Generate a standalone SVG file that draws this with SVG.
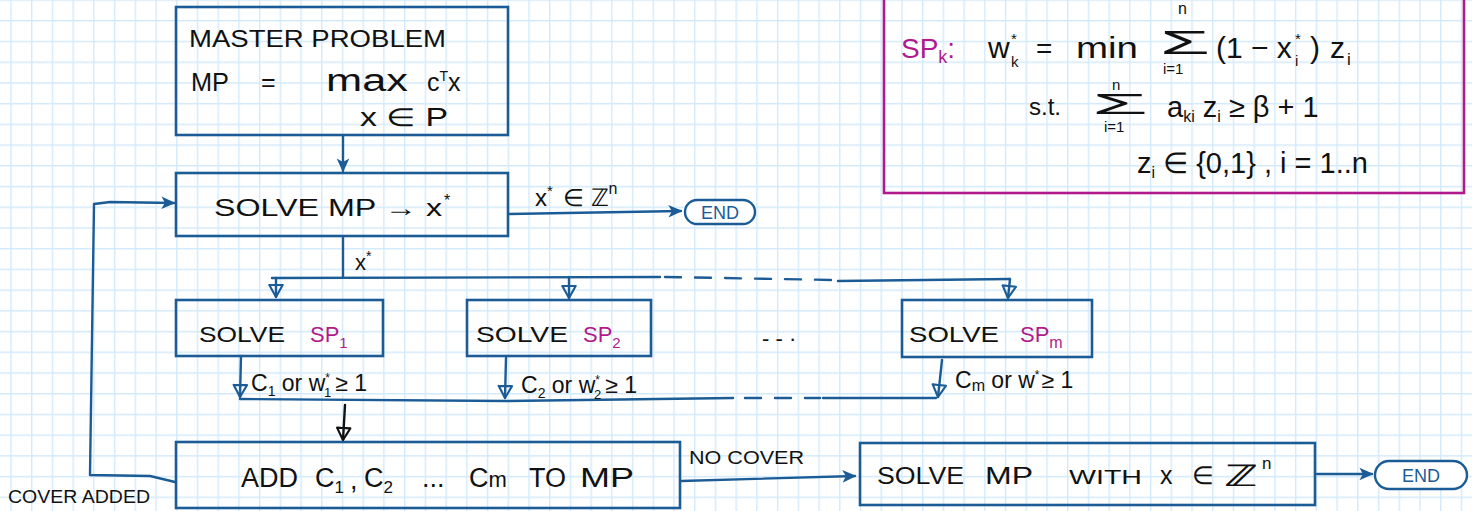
<svg xmlns="http://www.w3.org/2000/svg" width="1472" height="511" viewBox="0 0 1472 511">
<defs>
<style>
.box{fill:none;stroke:#1b5c96;stroke-width:2.6}
.pbox{fill:none;stroke:#b01a8c;stroke-width:2.6}
.pill{fill:#fff;stroke:#1b5c96;stroke-width:2.4}
.ln{fill:none;stroke:#1b5c96;stroke-width:2.4;stroke-linecap:round;stroke-linejoin:round}
.lnk{fill:none;stroke:#111;stroke-width:2.4;stroke-linecap:round}
.dash{stroke-dasharray:16 14}
.t{font-family:"Liberation Sans",Arial,sans-serif;fill:#111}
.m{fill:#b01a8c}
.e{font-family:"Liberation Sans",Arial,sans-serif;fill:#1b5c96;font-size:18px}
</style>
<pattern id="grid" x="10.3" y="-0.7" width="20.72" height="20.72" patternUnits="userSpaceOnUse">
<path d="M0.7,0 V20.72 M0,0.7 H20.72" stroke="#d3eafb" stroke-width="1.4" fill="none"/>
</pattern>
<marker id="af" viewBox="0 0 10 10" refX="9" refY="5" markerWidth="14" markerHeight="14" markerUnits="userSpaceOnUse" orient="auto">
<path d="M0,0.5 L10,5 L0,9.5 L2.5,5 z" fill="#1b5c96"/>
</marker>
<marker id="ao" viewBox="0 0 12 12" refX="10" refY="6" markerWidth="16" markerHeight="16" markerUnits="userSpaceOnUse" orient="auto">
<path d="M1,1 L10,6 L1,11 z" fill="none" stroke="#1b5c96" stroke-width="1.6" stroke-linejoin="round"/>
</marker>
<marker id="ak" viewBox="0 0 12 12" refX="10" refY="6" markerWidth="16" markerHeight="16" markerUnits="userSpaceOnUse" orient="auto">
<path d="M1,1 L10,6 L1,11 z" fill="none" stroke="#111" stroke-width="1.6" stroke-linejoin="round"/>
</marker>
</defs>
<rect width="1472" height="511" fill="#fff"/>
<rect width="1472" height="511" fill="url(#grid)"/>

<g id="connectors">
<path class="ln" d="M343,136 L343,171" marker-end="url(#af)"/>
<path class="ln" d="M509,214 L681,211" marker-end="url(#af)"/>
<path class="ln" d="M175,482 L150,476 L90,475 L94,204 L110,202 L174,203" marker-end="url(#af)"/>
<path class="ln" d="M343,237 L343,277"/>
<path class="ln" d="M272,278 L660,277"/>
<path class="ln dash" d="M665,277 L835,280"/>
<path class="ln" d="M838,281 L1010,279"/>
<path class="ln" d="M276,278 L276,297" marker-end="url(#ao)"/>
<path class="ln" d="M569,277 L569,298" marker-end="url(#ao)"/>
<path class="ln" d="M1010,279 L1008,298" marker-end="url(#ao)"/>
<path class="ln" d="M241,356 L240,397" marker-end="url(#ao)"/>
<path class="ln" d="M506,358 L505,398" marker-end="url(#ao)"/>
<path class="ln" d="M942,360 L938,397" marker-end="url(#ao)"/>
<path class="ln" d="M240,399 L505,401 L733,398"/>
<path class="ln dash" d="M745,398 L820,398"/>
<path class="ln" d="M823,398 L936,398"/>
<path class="lnk" d="M345,405 L343,440" marker-end="url(#ak)"/>
<path class="ln" d="M681,481 L855,476" marker-end="url(#af)"/>
<path class="ln" d="M1317,474 L1372,474" marker-end="url(#af)"/>
</g>

<g id="node-mp">
<rect class="box" x="176" y="7" width="332" height="128"/>
<text class="t" x="189" y="47" font-size="23" textLength="257" lengthAdjust="spacingAndGlyphs">MASTER  PROBLEM</text>
<text class="t" x="191" y="91" font-size="25" textLength="38" lengthAdjust="spacingAndGlyphs">MP</text>
<text class="t" x="261" y="91" font-size="25">=</text>
<text class="t" x="326" y="91" font-size="31" textLength="82" lengthAdjust="spacingAndGlyphs">max</text>
<text class="t" x="427" y="91" font-size="25">c<tspan dy="-10" font-size="14">T</tspan><tspan dy="10">x</tspan></text>
<text class="t" x="360" y="126" font-size="25" textLength="88" lengthAdjust="spacingAndGlyphs">x ∈ P</text>
</g>

<g id="node-solve-mp">
<rect class="box" x="176" y="173" width="332" height="63"/>
<text class="t" x="214" y="216" font-size="24" textLength="228" lengthAdjust="spacingAndGlyphs">SOLVE MP → x</text>
<text class="t" x="444" y="206" font-size="16">*</text>
</g>

<g id="label-integer">
<text class="t" x="535" y="206" font-size="24">x<tspan dy="-10" font-size="15">*</tspan><tspan dy="10" dx="10">∈ ℤ</tspan><tspan dy="-12" font-size="16">n</tspan></text>
</g>

<g id="node-end1">
<rect class="pill" x="685" y="200" width="70" height="24" rx="12"/>
<text class="e" x="720" y="219" text-anchor="middle">END</text>
</g>

<g id="label-xstar">
<text class="t" x="355" y="270" font-size="22">x<tspan dy="-9" font-size="14">*</tspan></text>
</g>

<g id="node-sp1">
<rect class="box" x="176" y="300" width="207" height="56"/>
<text class="t" x="199" y="342" font-size="22" textLength="86" lengthAdjust="spacingAndGlyphs">SOLVE</text>
<text class="t m" x="310" y="342" font-size="22">SP<tspan dy="6" font-size="15">1</tspan></text>
</g>

<g id="node-sp2">
<rect class="box" x="467" y="300" width="184" height="56"/>
<text class="t" x="476" y="342" font-size="22" textLength="92" lengthAdjust="spacingAndGlyphs">SOLVE</text>
<text class="t m" x="583" y="342" font-size="22">SP<tspan dy="6" font-size="15">2</tspan></text>
</g>

<g id="dots">
<text class="t" x="762" y="346" font-size="22">- - ·</text>
</g>

<g id="node-spm">
<rect class="box" x="902" y="300" width="190" height="57"/>
<text class="t" x="909" y="342" font-size="22" textLength="90" lengthAdjust="spacingAndGlyphs">SOLVE</text>
<text class="t m" x="1020" y="342" font-size="22">SP<tspan dy="6" font-size="16">m</tspan></text>
</g>

<g id="label-c1">
<text class="t" x="251" y="391" font-size="23">C<tspan dy="5" font-size="14">1</tspan><tspan dy="-5"> or w</tspan><tspan dy="-9" font-size="12">*</tspan><tspan dy="15" dx="-6" font-size="13">1</tspan><tspan dy="-6" dx="4">≥ 1</tspan></text>
</g>
<g id="label-c2">
<text class="t" x="521" y="393" font-size="23">C<tspan dy="5" font-size="14">2</tspan><tspan dy="-5"> or w</tspan><tspan dy="-9" font-size="12">*</tspan><tspan dy="15" dx="-6" font-size="13">2</tspan><tspan dy="-6" dx="4">≥ 1</tspan></text>
</g>
<g id="label-cm">
<text class="t" x="955" y="388" font-size="23">C<tspan dy="3" font-size="16">m</tspan><tspan dy="-3"> or w</tspan><tspan dy="-9" font-size="12">*</tspan><tspan dy="9" dx="2">≥ 1</tspan></text>
</g>

<g id="node-add">
<rect class="box" x="176" y="442" width="504" height="66"/>
<text class="t" x="241" y="487" font-size="27">ADD</text>
<text class="t" x="315" y="487" font-size="27">C<tspan dy="6" font-size="17">1</tspan></text>
<text class="t" x="350" y="489" font-size="27">,</text>
<text class="t" x="364" y="487" font-size="27">C<tspan dy="6" font-size="17">2</tspan></text>
<text class="t" x="422" y="487" font-size="27">...</text>
<text class="t" x="469" y="487" font-size="27">C<tspan font-size="22">m</tspan></text>
<text class="t" x="529" y="487" font-size="27">TO</text>
<text class="t" x="580" y="487" font-size="27" textLength="54" lengthAdjust="spacingAndGlyphs">MP</text>
</g>

<g id="label-cover-added">
<text class="t" x="8" y="503" font-size="18" textLength="142" lengthAdjust="spacingAndGlyphs">COVER ADDED</text>
</g>

<g id="label-no-cover">
<text class="t" x="689" y="464" font-size="19" textLength="115" lengthAdjust="spacingAndGlyphs">NO COVER</text>
</g>

<g id="node-solve-int">
<rect class="box" x="860" y="443" width="455" height="62"/>
<text class="t" x="877" y="484" font-size="23" textLength="87" lengthAdjust="spacingAndGlyphs">SOLVE</text>
<text class="t" x="985" y="484" font-size="23" textLength="48" lengthAdjust="spacingAndGlyphs">MP</text>
<text class="t" x="1069" y="484" font-size="20" textLength="73" lengthAdjust="spacingAndGlyphs">WITH</text>
<text class="t" x="1160" y="484" font-size="25">x</text>
<text class="t" x="1192" y="484" font-size="25">∈</text>
<text class="t" x="1224" y="486" font-size="30" textLength="34" lengthAdjust="spacingAndGlyphs">ℤ</text>
<text class="t" x="1262" y="469" font-size="17">n</text>
</g>

<g id="node-end2">
<rect class="pill" x="1375" y="461" width="92" height="28" rx="14"/>
<text class="e" x="1421" y="482" text-anchor="middle" font-size="19">END</text>
</g>

<g id="node-spk">
<rect class="pbox" x="884" y="-10" width="580" height="203"/>
<text class="t m" x="901" y="58" font-size="28">SP<tspan dy="5" font-size="18">k</tspan><tspan dy="-5">:</tspan></text>
<text class="t" x="988" y="58" font-size="30">w</text>
<text class="t" x="1011" y="44" font-size="15">*</text>
<text class="t" x="1011" y="67" font-size="15">k</text>
<text class="t" x="1036" y="58" font-size="28">=</text>
<text class="t" x="1076" y="58" font-size="30" textLength="62" lengthAdjust="spacingAndGlyphs">min</text>
<text class="t" x="1160" y="54" font-size="34" textLength="50" lengthAdjust="spacingAndGlyphs">Σ</text>
<text class="t" x="1178" y="14" font-size="16">n</text>
<text class="t" x="1163" y="74" font-size="15">i=1</text>
<text class="t" x="1216" y="58" font-size="30">(1 − x</text>
<text class="t" x="1295" y="44" font-size="15">*</text>
<text class="t" x="1295" y="66" font-size="15">i</text>
<text class="t" x="1310" y="58" font-size="30">)</text>
<text class="t" x="1330" y="58" font-size="30">z</text>
<text class="t" x="1347" y="65" font-size="17">i</text>
<text class="t" x="1029" y="115" font-size="24">s.t.</text>
<text class="t" x="1092" y="114" font-size="30" textLength="56" lengthAdjust="spacingAndGlyphs">Σ</text>
<text class="t" x="1112" y="90" font-size="15">n</text>
<text class="t" x="1104" y="132" font-size="15">i=1</text>
<text class="t" x="1167" y="117" font-size="29">a<tspan dy="5" font-size="16">ki</tspan><tspan dy="-5"> z</tspan><tspan dy="5" font-size="16">i</tspan><tspan dy="-5">  ≥  β + 1</tspan></text>
<text class="t" x="1137" y="173" font-size="29">z<tspan dy="5" font-size="16">i</tspan><tspan dy="-5"> ∈ {0,1} , i = 1..n</tspan></text>
</g>
</svg>
